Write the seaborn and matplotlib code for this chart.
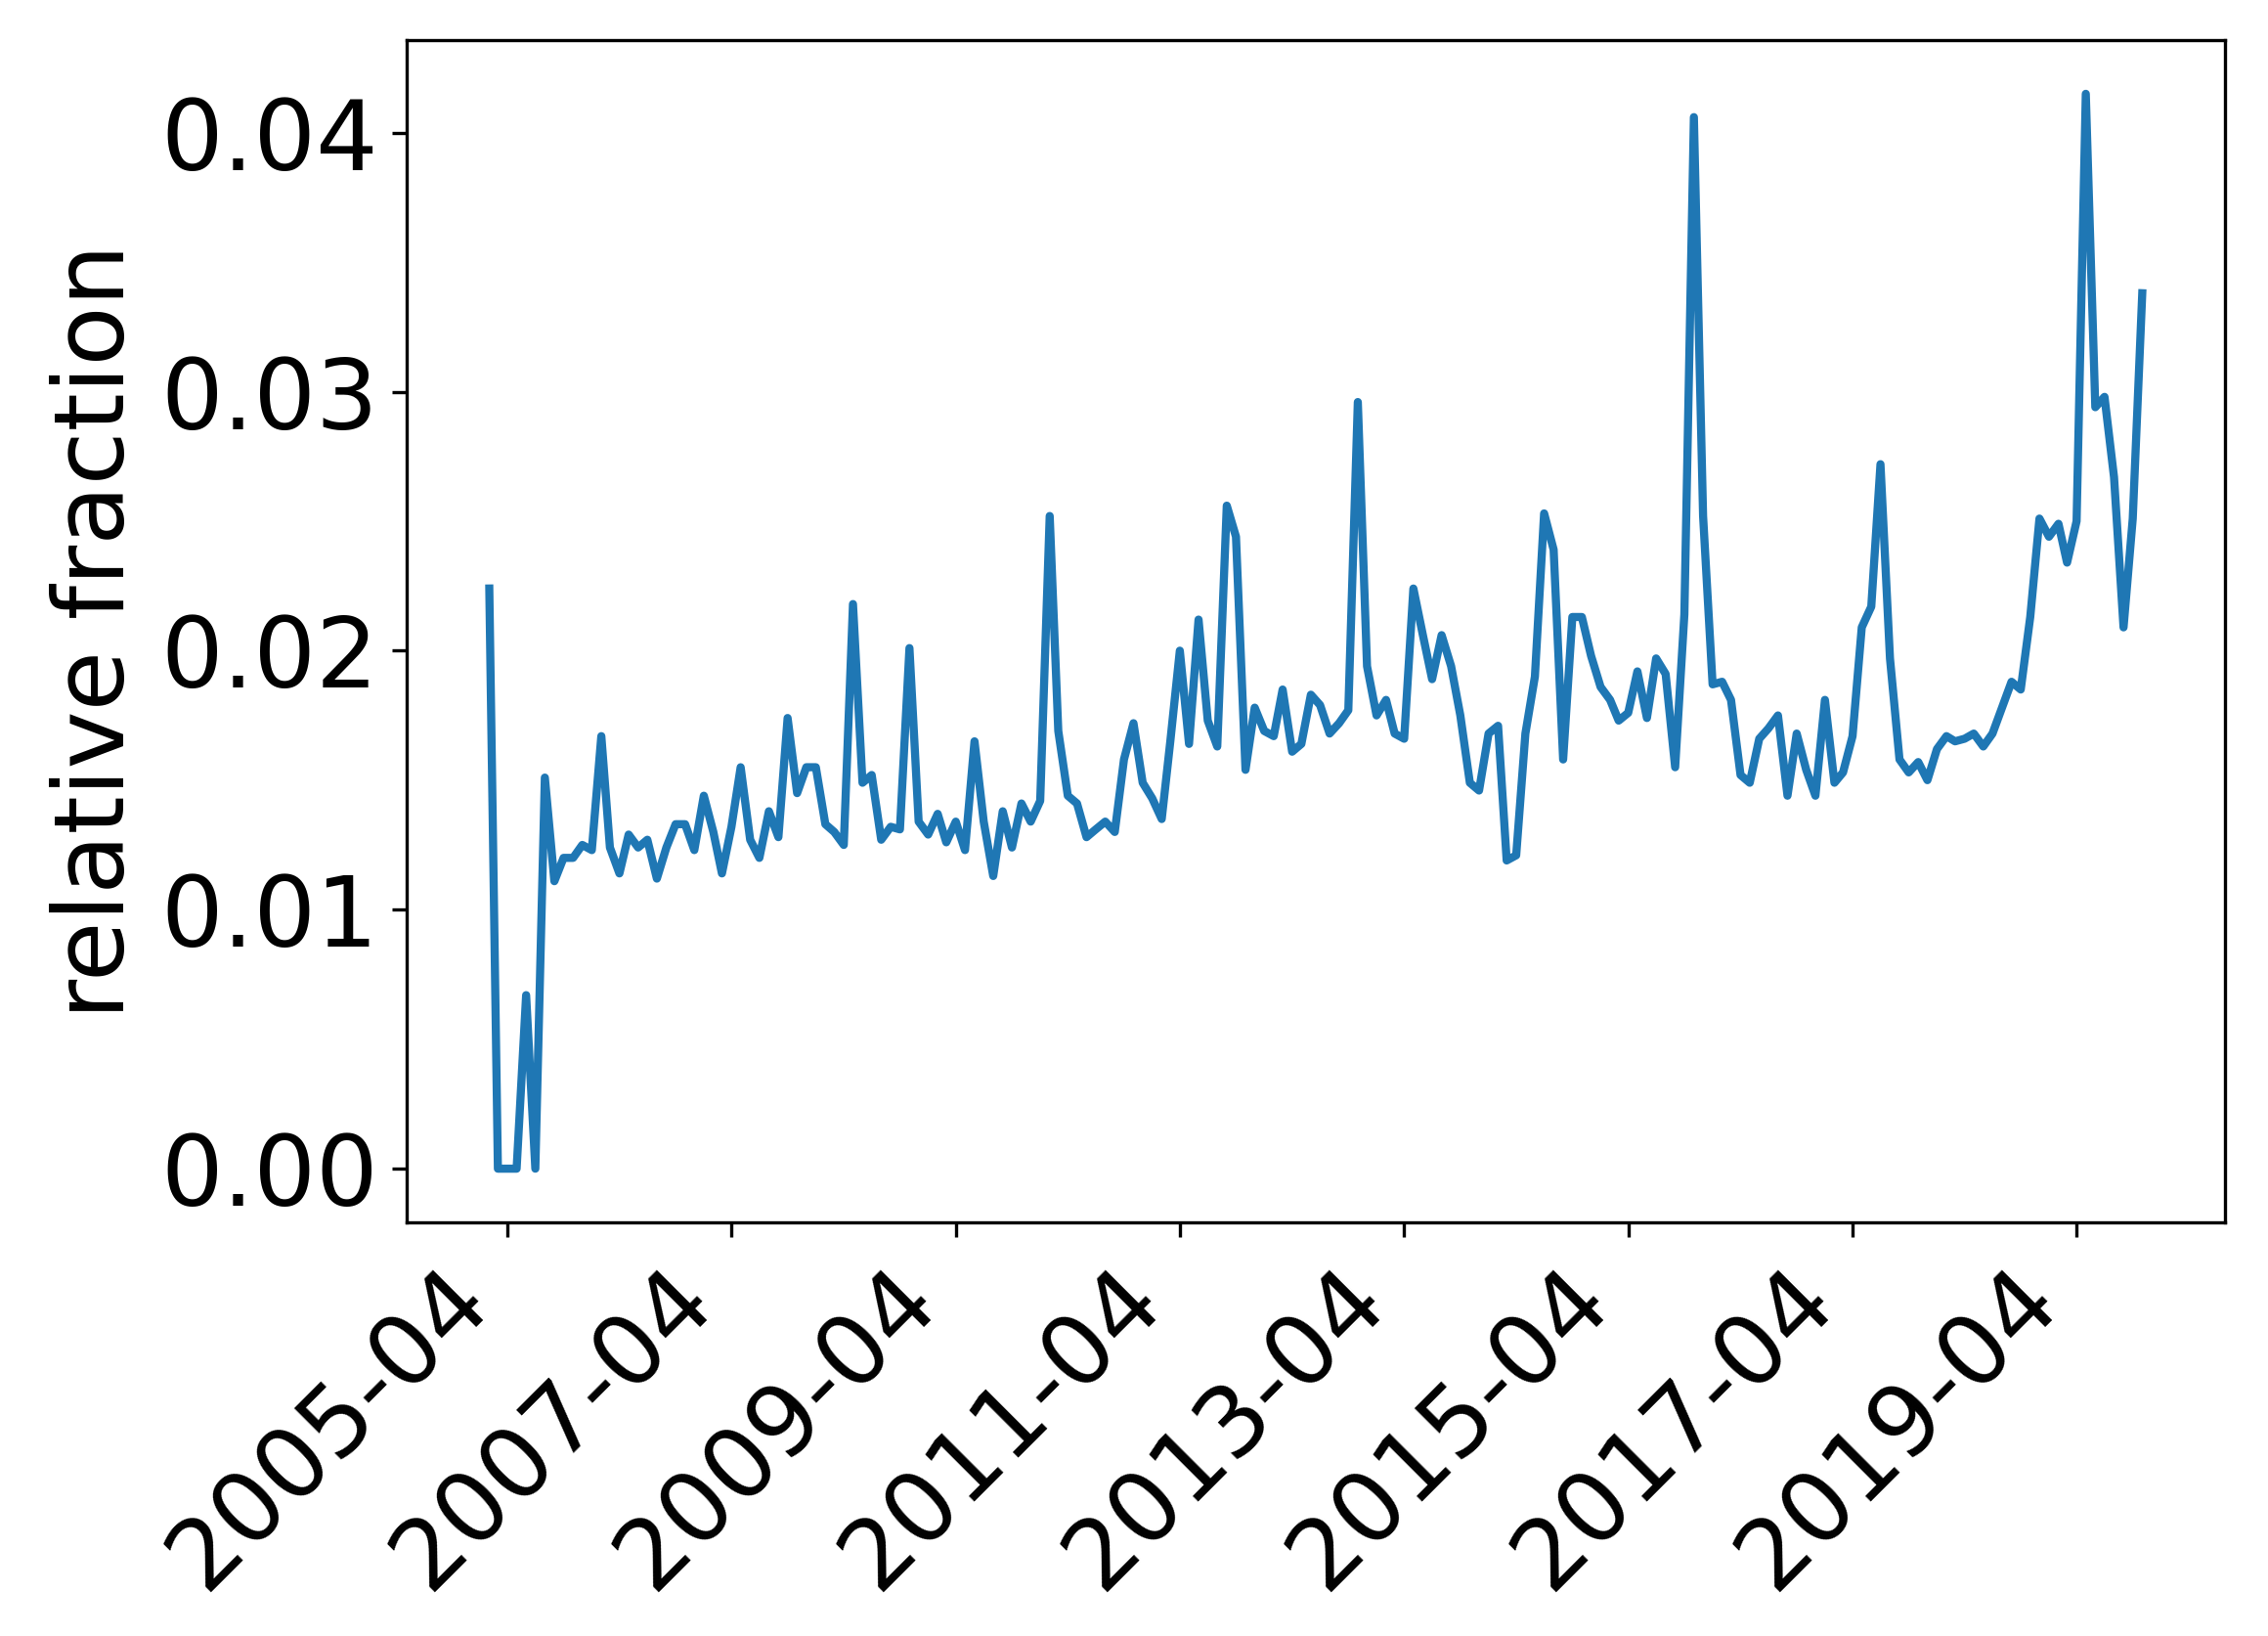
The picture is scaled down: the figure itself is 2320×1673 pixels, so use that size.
import pandas as pd
import numpy as np
import matplotlib
matplotlib.use('Agg')
import matplotlib.pyplot as plt
import matplotlib.dates as mdates
import seaborn as sns

# monthly series, first value is 2005-02
start_month = '2005-02'
fraction = [
    0.0224, 0.0, 0.0, 0.0, 0.0067, 0.0, 0.0151, 0.0111, 0.0120, 0.0120, 0.0125,
    0.0123, 0.0167, 0.0124, 0.0114, 0.0129, 0.0124, 0.0127, 0.0112, 0.0124, 0.0133, 0.0133, 0.0123, 0.0144,
    0.0130, 0.0114, 0.0132, 0.0155, 0.0127, 0.0120, 0.0138, 0.0128, 0.0174, 0.0145, 0.0155, 0.0155,
    0.0133, 0.0130, 0.0125, 0.0218, 0.0149, 0.0152, 0.0127, 0.0132, 0.0131, 0.0201, 0.0134, 0.0129,
    0.0137, 0.0126, 0.0134, 0.0123, 0.0165, 0.0134, 0.0113, 0.0138, 0.0124, 0.0141, 0.0134, 0.0142,
    0.0252, 0.0169, 0.0144, 0.0141, 0.0128, 0.0131, 0.0134, 0.0130, 0.0158, 0.0172, 0.0149, 0.0143,
    0.0135, 0.0165, 0.0200, 0.0164, 0.0212, 0.0173, 0.0163, 0.0256, 0.0244, 0.0154, 0.0178, 0.0169,
    0.0167, 0.0185, 0.0161, 0.0164, 0.0183, 0.0179, 0.0168, 0.0172, 0.0177, 0.0296, 0.0194, 0.0175,
    0.0181, 0.0168, 0.0166, 0.0224, 0.0206, 0.0189, 0.0206, 0.0194, 0.0175, 0.0149, 0.0146, 0.0168,
    0.0171, 0.0119, 0.0121, 0.0168, 0.0190, 0.0253, 0.0239, 0.0158, 0.0213, 0.0213, 0.0198, 0.0186,
    0.0181, 0.0173, 0.0176, 0.0192, 0.0174, 0.0197, 0.0191, 0.0155, 0.0214, 0.0406, 0.0252, 0.0187,
    0.0188, 0.0181, 0.0152, 0.0149, 0.0166, 0.0170, 0.0175, 0.0144, 0.0168, 0.0154, 0.0144, 0.0181,
    0.0149, 0.0153, 0.0167, 0.0209, 0.0217, 0.0272, 0.0197, 0.0158, 0.0153, 0.0157, 0.0150, 0.0162,
    0.0167, 0.0165, 0.0166, 0.0168, 0.0163, 0.0168, 0.0178, 0.0188, 0.0185, 0.0213, 0.0251, 0.0244,
    0.0249, 0.0234, 0.0250, 0.0415, 0.0294, 0.0298, 0.0267, 0.0209, 0.0251, 0.0338,
]

df = pd.DataFrame({
    'month': pd.date_range(start_month, periods=len(fraction), freq='MS'),
    'fraction': fraction,
})

fig, ax = plt.subplots(figsize=(2320 / 300, 1673 / 300), dpi=300)
sns.lineplot(data=df, x='month', y='fraction', ax=ax, color='#1f77b4', linewidth=2.0)

# label every second April
ax.set_xticks(df['month'].iloc[2::24])
ax.xaxis.set_major_formatter(mdates.DateFormatter('%Y-%m'))
plt.xticks(rotation=45, ha='right')
ax.set_yticks([0.0, 0.01, 0.02, 0.03, 0.04])
ax.set_yticklabels(['0.00', '0.01', '0.02', '0.03', '0.04'])
ax.tick_params(labelsize=24)
ax.set_xlabel('')
ax.set_ylabel('relative fraction', fontsize=24)

plt.subplots_adjust(left=0.1793, right=0.981, top=0.9755, bottom=0.2528)
plt.savefig('out.png', dpi=300)
plt.close()
